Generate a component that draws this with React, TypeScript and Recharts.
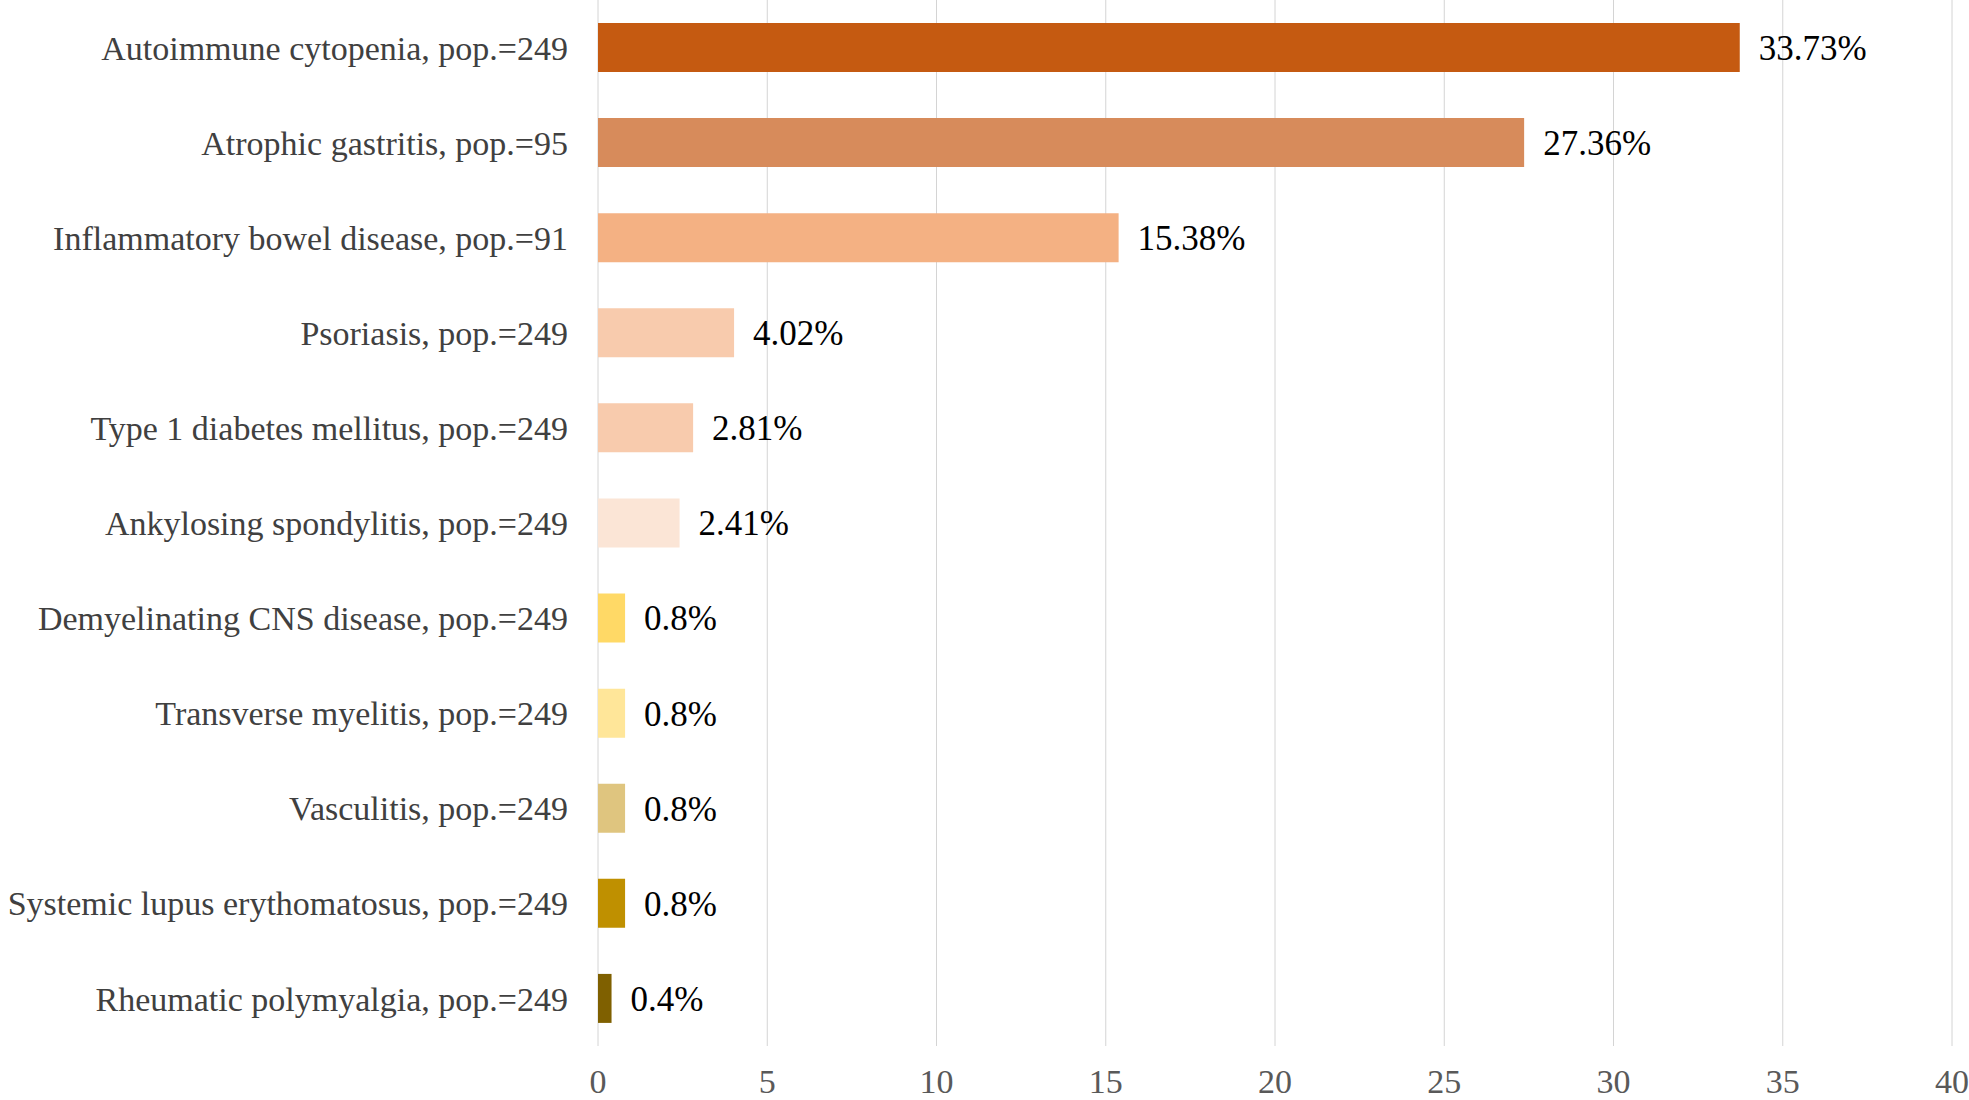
import { BarChart, Bar, XAxis, YAxis, CartesianGrid, Cell, LabelList } from 'recharts';

// disease groups, top to bottom
const categories = [
  'Autoimmune cytopenia, pop.=249',
  'Atrophic gastritis, pop.=95',
  'Inflammatory bowel disease, pop.=91',
  'Psoriasis, pop.=249',
  'Type 1 diabetes mellitus, pop.=249',
  'Ankylosing spondylitis, pop.=249',
  'Demyelinating CNS disease, pop.=249',
  'Transverse myelitis, pop.=249',
  'Vasculitis, pop.=249',
  'Systemic lupus erythomatosus, pop.=249',
  'Rheumatic polymyalgia, pop.=249',
];

const percents = [33.73, 27.36, 15.38, 4.02, 2.81, 2.41, 0.8, 0.8, 0.8, 0.8, 0.4];

const barColors = [
  '#C55A11',
  '#D78B5B',
  '#F4B183',
  '#F8CBAD',
  '#F8CBAD',
  '#FBE5D6',
  '#FFD966',
  '#FFE699',
  '#DFC57F',
  '#BF9000',
  '#7F6000',
];

const xTicks = [0, 5, 10, 15, 20, 25, 30, 35, 40];

const data = categories.map((name, i) => ({
  name,
  value: percents[i],
  color: barColors[i],
}));

const FONT = '"Liberation Serif", "Times New Roman", serif';

export default function App() {
  return (
    <div style={{ width: 1969, height: 1100, background: '#fff' }}>
      <style>{`body { margin: 0; }`}</style>
      <BarChart
        width={1969}
        height={1100}
        data={data}
        layout="vertical"
        margin={{ top: 0, right: 17, bottom: 0, left: 0 }}
      >
        <CartesianGrid horizontal={false} stroke="#d4d4d4" />
        <XAxis
          type="number"
          domain={[0, 40]}
          ticks={xTicks}
          interval={0}
          axisLine={false}
          tickLine={false}
          height={54}
          tickMargin={17}
          tick={{ fill: '#595959', fontSize: 34, fontFamily: FONT }}
        />
        <YAxis
          type="category"
          dataKey="name"
          width={598}
          interval={0}
          axisLine={false}
          tickLine={false}
          tickMargin={24}
          tick={{ fill: '#404040', fontSize: 34, fontFamily: FONT }}
        />
        <Bar dataKey="value" barSize={49} isAnimationActive={false}>
          {data.map((d, i) => (
            <Cell key={`cell-${i}`} fill={d.color} />
          ))}
          <LabelList
            dataKey="value"
            position="right"
            offset={19}
            formatter={(v: any) => `${v}%`}
            style={{ fill: '#000', fontSize: 35, fontFamily: FONT }}
          />
        </Bar>
      </BarChart>
    </div>
  );
}
